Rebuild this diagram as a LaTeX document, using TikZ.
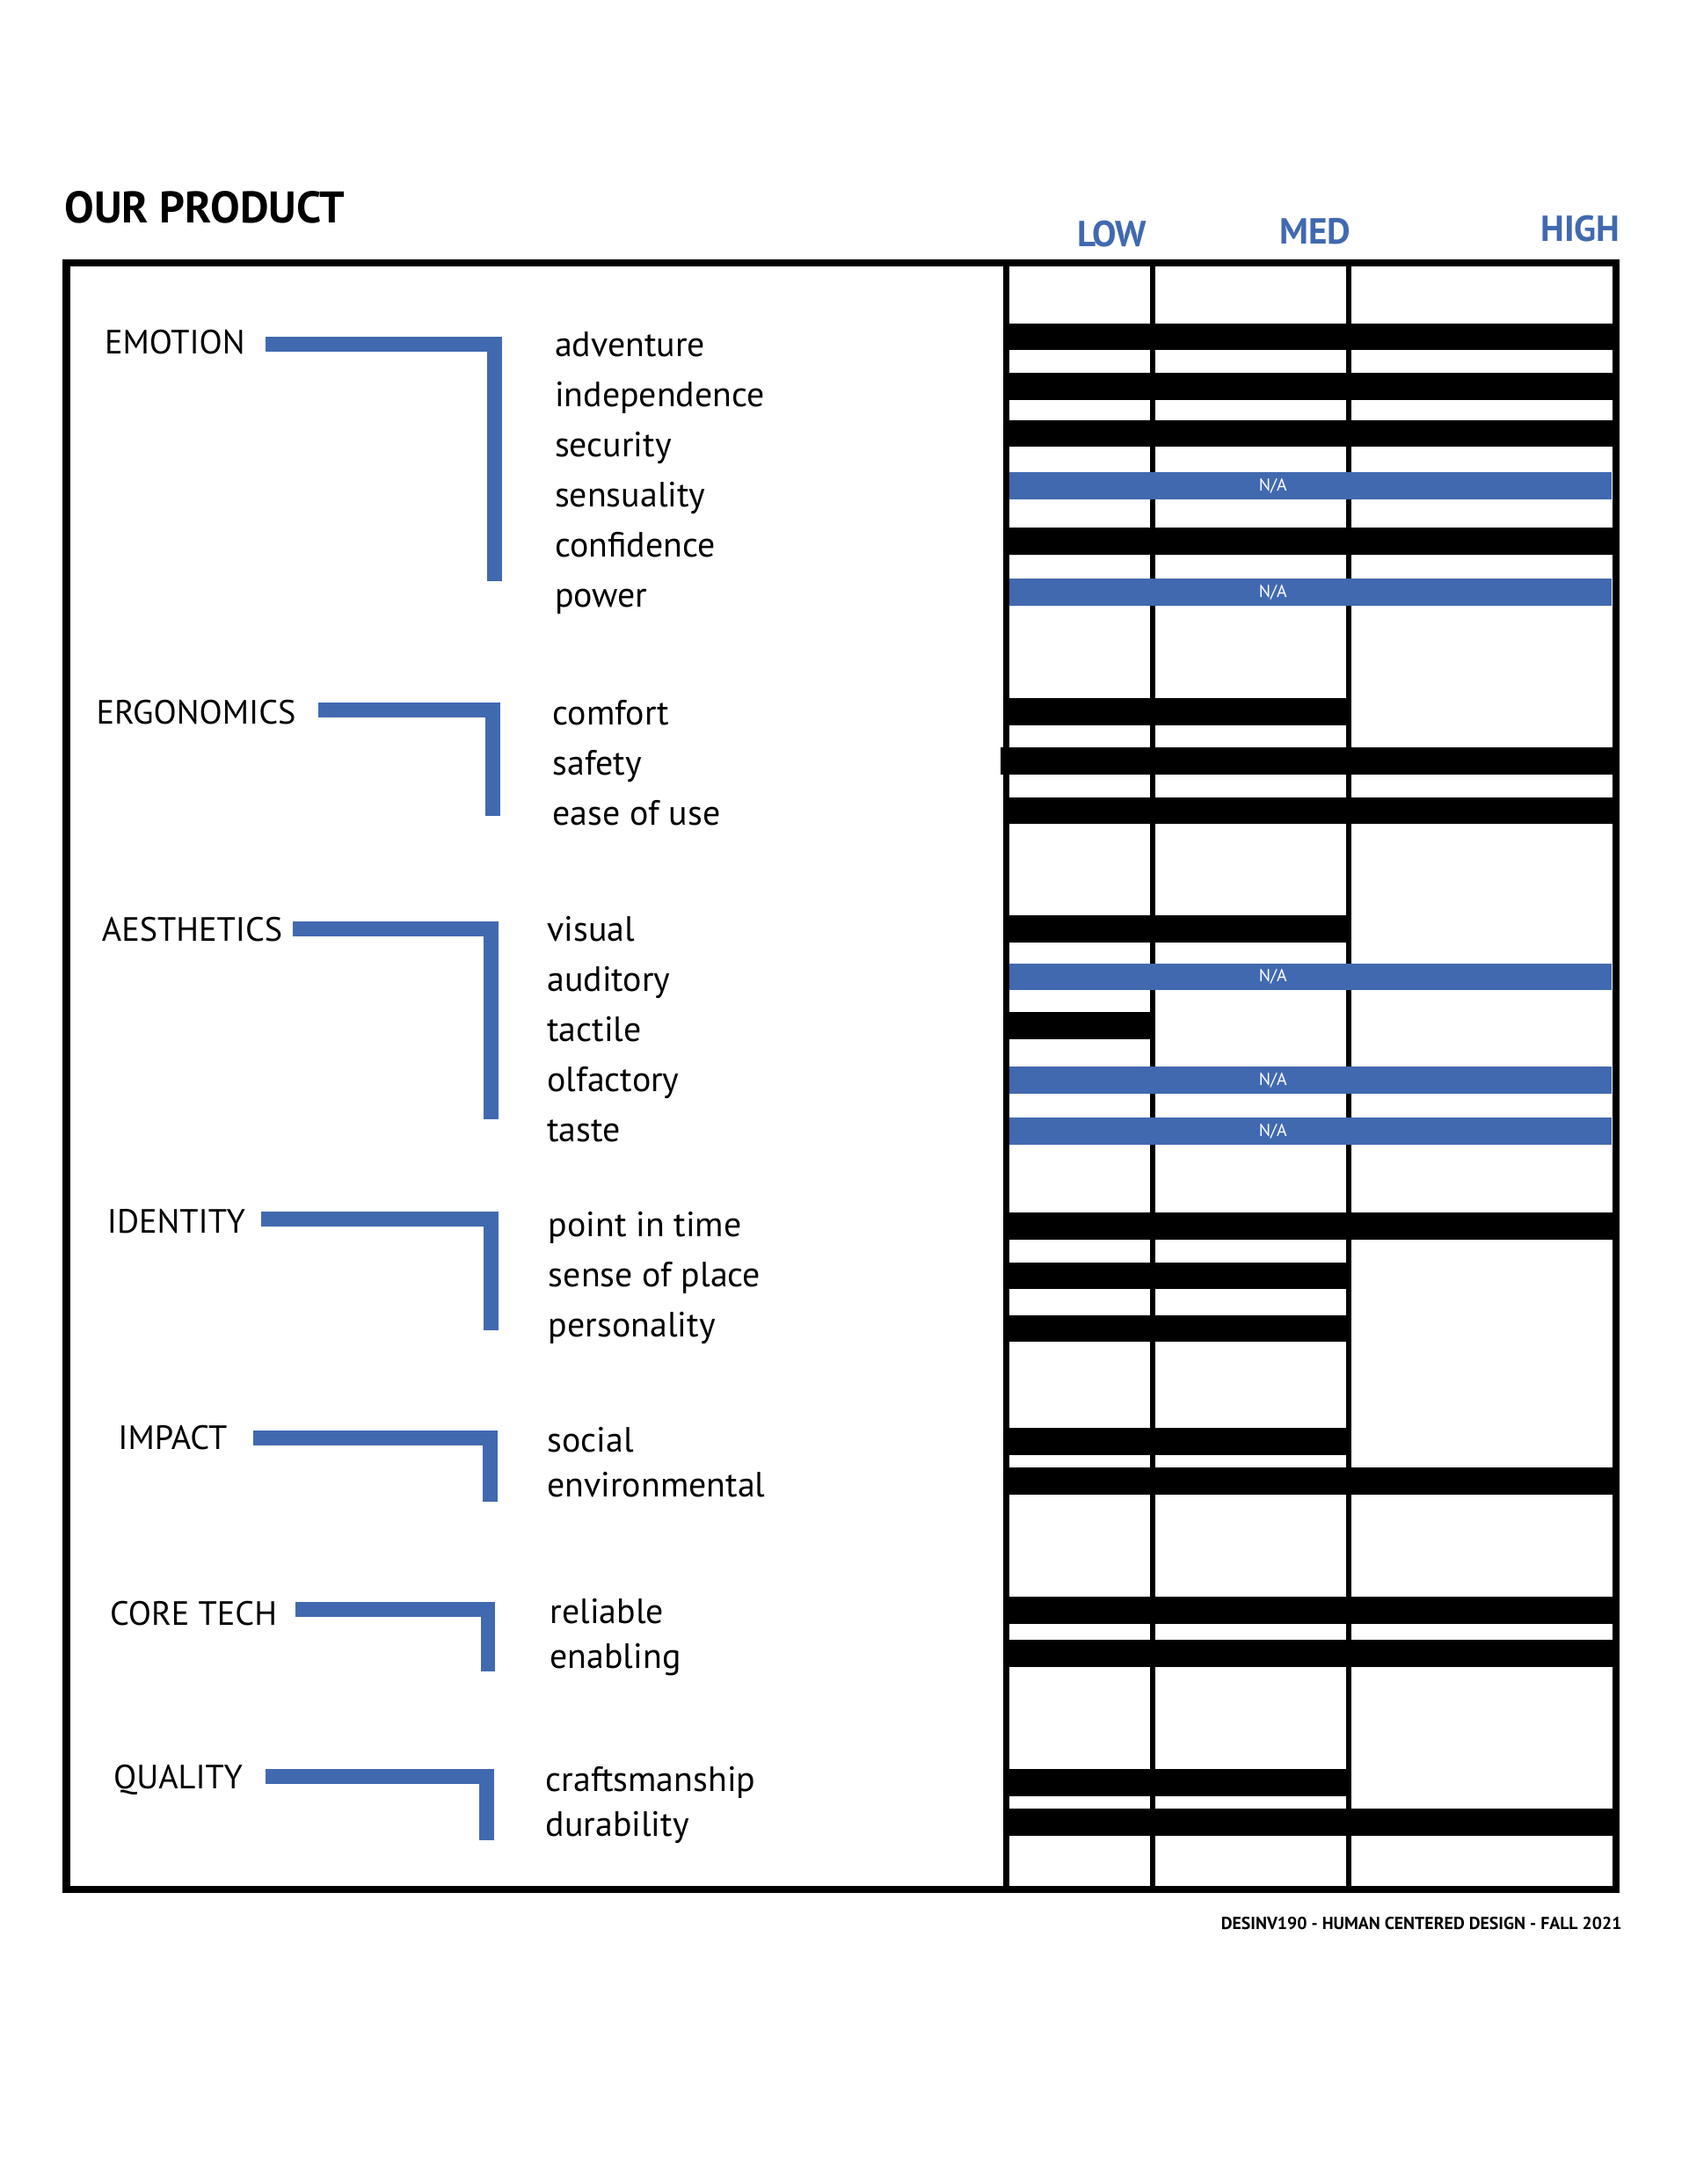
\documentclass[tikz,border=0pt]{standalone}
\usepackage{fontspec}
\setmainfont{PT Sans}
\definecolor{bblue}{RGB}{65,105,176}
\newcommand\blackbar[3]{\fill[black] (721,#1-9.7) rectangle (#2,#1+9.7);}
\newcommand\nabar[2]{\fill[bblue] (725,#1-9.7) rectangle (1158.2,#1+9.7);
  \node[natext] (#2) at (914.7,#1) {N/A};}
\newcommand\brk[4]{\fill[bblue] (#1,#2) rectangle (#3,#2+10.7);
  \fill[bblue] (#3-10.6,#2) rectangle (#3,#4);}
\begin{document}
\begin{tikzpicture}[x=1pt,y=-1pt,
  lbl/.style={anchor=base west,inner sep=0pt,font=\fontsize{24.2}{30}\selectfont},
  item/.style={anchor=base west,inner sep=0pt,font=\fontsize{25.2}{30}\selectfont},
  lvl/.style={anchor=base west,inner sep=0pt,text=bblue,font=\fontsize{26}{30}\selectfont\bfseries},
  natext/.style={inner sep=0pt,text=white,font=\fontsize{12.5}{14}\selectfont}]
\useasboundingbox (0,0) rectangle (1213,1569.3);
% title and levels
\node[anchor=base west,inner sep=0pt,font=\fontsize{31.8}{36}\selectfont\bfseries] (title) at (46.3,160) {OUR PRODUCT};
\node[lvl] (low) at (773.8,176.9) {LOW};
\node[lvl] (med) at (919.3,175.4) {MED};
\node[lvl] (high) at (1106.9,173.1) {HIGH};
% frame and columns
\draw[line width=5.2] (47.7,189) rectangle (1161.2,1357.5);
\foreach \cx in {723,828.3,969.1}{\draw[line width=4] (\cx,189) -- (\cx,1357.5);}
% emotion
\blackbar{242}{1163.8}{}
\blackbar{277.5}{1163.8}{}
\blackbar{311.5}{1163.8}{}
\nabar{349}{na1}
\blackbar{389}{1163.8}{}
\nabar{425.5}{na2}
% ergonomics
\blackbar{511.5}{971.2}{}
\fill[black] (719,547-9.7) rectangle (1163.8,547+9.7);
\blackbar{582.4}{1163.8}{}
% aesthetics
\blackbar{667.5}{971.2}{}
\nabar{701.8}{na3}
\blackbar{737}{830.2}{}
\nabar{776.3}{na4}
\nabar{812.8}{na5}
% identity
\blackbar{881.2}{1163.8}{}
\blackbar{916.7}{971.2}{}
\blackbar{954.5}{971.2}{}
% impact
\blackbar{1035.8}{971.2}{}
\blackbar{1064.4}{1163.8}{}
% core tech
\blackbar{1157.2}{1163.8}{}
\blackbar{1188.1}{1163.8}{}
% quality
\blackbar{1280.8}{971.2}{}
\blackbar{1309.5}{1163.8}{}
% labels and brackets
\node[lbl] (emotion) at (75,254.4) {EMOTION};
\brk{191}{241.8}{360.5}{417.6}
\node[lbl] (ergo) at (69,520.2) {ERGONOMICS};
\brk{228.6}{504.8}{359.2}{586.3}
\node[lbl] (aest) at (73,676.5) {AESTHETICS};
\brk{210.2}{662}{358.1}{804.2}
\node[lbl] (ident) at (76.8,886.2) {IDENTITY};
\brk{187.4}{870.5}{358.1}{955.7}
\node[lbl] (impact) at (84.7,1041.4) {IMPACT};
\brk{182.1}{1027.6}{357.3}{1079}
\node[lbl] (core) at (78.8,1167.5) {CORE TECH};
\brk{212.5}{1150.8}{355.9}{1201.2}
\node[lbl] (quality) at (81.4,1285.4) {QUALITY};
\brk{190.5}{1271.4}{354.8}{1322.5}
% items
\node[item] (i1) at (398.5,256) {adventure};
\node[item] (i2) at (398.5,292) {independence};
\node[item] (i3) at (398.5,328) {security};
\node[item] (i4) at (398.5,364) {sensuality};
\node[item] (i5) at (398.5,400) {confidence};
\node[item] (i6) at (398.5,436) {power};
\node[item] (i7) at (397,521) {comfort};
\node[item] (i8) at (397,557) {safety};
\node[item] (i9) at (397,593) {ease of use};
\node[item] (i10) at (393,676.5) {visual};
\node[item] (i11) at (393,712.5) {auditory};
\node[item] (i12) at (393,748.5) {tactile};
\node[item] (i13) at (393,784.5) {olfactory};
\node[item] (i14) at (393,820.5) {taste};
\node[item] (i15) at (394,888.5) {point in time};
\node[item] (i16) at (394,924.5) {sense of place};
\node[item] (i17) at (394,960.5) {personality};
\node[item] (i18) at (393,1043.5) {social};
\node[item] (i19) at (393,1075.5) {environmental};
\node[item] (i20) at (395,1166.5) {reliable};
\node[item] (i21) at (395,1198.5) {enabling};
\node[item] (i22) at (392,1287.5) {craftsmanship};
\node[item] (i23) at (392,1319.5) {durability};
% footer
\node[anchor=base east,inner sep=0pt,font=\fontsize{12.5}{14}\selectfont\bfseries] (footer) at (1165.5,1386.6) {DESINV190 - HUMAN CENTERED DESIGN - FALL 2021};
\end{tikzpicture}
\end{document}
